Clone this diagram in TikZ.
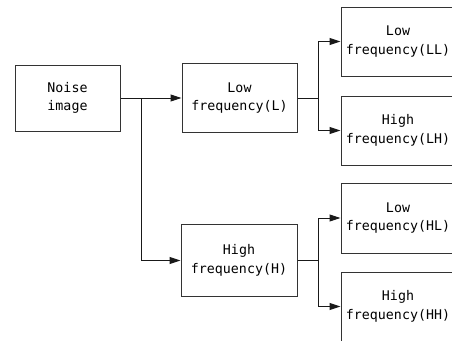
\documentclass[tikz,border=0pt]{standalone}
\usepackage{fontspec}
\usetikzlibrary{arrows.meta}
\newfontfamily\boxfont{DejaVu Sans Mono}
\begin{document}
\begin{tikzpicture}[x=1pt,y=-1pt,
  box/.style={draw=black!80, line width=1pt, fill=white, align=center,
    inner sep=0pt, font=\boxfont\fontsize{13.3}{18.5}\selectfont},
  link/.style={draw=black!90, line width=1pt},
  arr/.style={link, -{Triangle[length=11pt,width=7pt]}}]
  \clip (0,0) rectangle (452,340);
  \fill[white] (0,0) rectangle (452,340);

  % first level
  \node[box, minimum width=105pt, minimum height=66pt] (N) at (67.5,98) {Noise\\image};
  \node[box, minimum width=115pt, minimum height=69pt] (L) at (239.5,98) {Low\\frequency(L)};
  \node[box, minimum width=116pt, minimum height=72pt] (H) at (239,260.5) {High\\frequency(H)};

  % second level
  \node[box, minimum width=114pt, minimum height=69pt] (LL) at (398,41.5) {Low\\frequency(LL)};
  \node[box, minimum width=114pt, minimum height=69pt] (LH) at (398,130.5) {High\\frequency(LH)};
  \node[box, minimum width=114pt, minimum height=70pt] (HL) at (398,218) {Low\\frequency(HL)};
  \node[box, minimum width=114pt, minimum height=69pt] (HH) at (398,306.5) {High\\frequency(HH)};

  % branch points
  \coordinate (j0) at (141.5,98);
  \coordinate (j1) at (318,98);
  \coordinate (j2) at (318,260.5);

  \draw[arr] (N.east) -- (L.west);
  \draw[arr] (j0) |- (H.west);

  \draw[link] (L.east) -- (j1);
  \draw[arr] (j1) |- (LL.west);
  \draw[arr] (j1) |- (LH.west);

  \draw[link] (H.east) -- (j2);
  \draw[arr] (j2) |- (HL.west);
  \draw[arr] (j2) |- (HH.west);
\end{tikzpicture}
\end{document}
